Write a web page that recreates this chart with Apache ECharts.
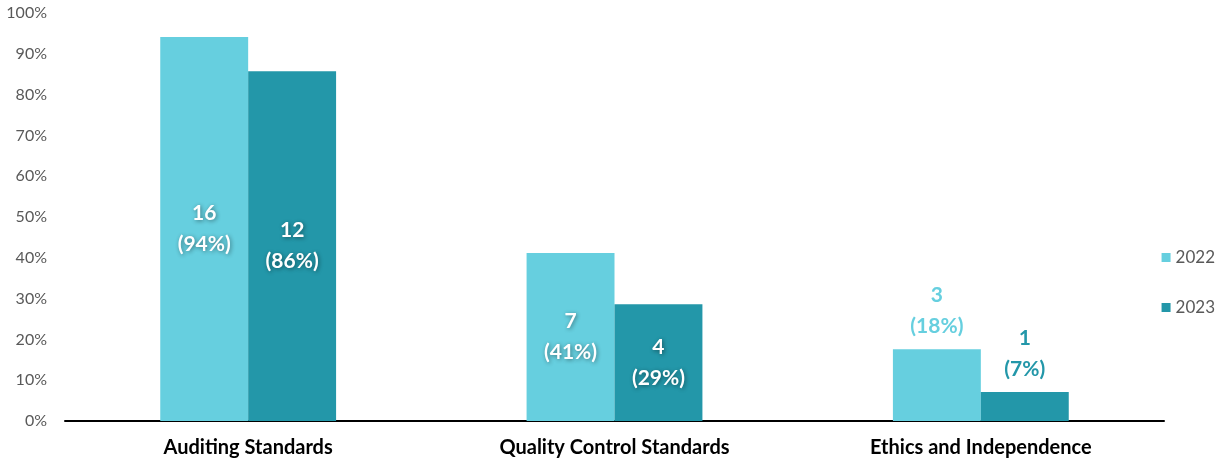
<!DOCTYPE html>
<html><head><meta charset="utf-8">
<script src="https://cdn.jsdelivr.net/npm/echarts@6/dist/echarts.min.js"></script>
<style>html,body{margin:0;padding:0;background:#fff}#c{width:1220px;height:462px}</style>
</head><body><div id="c"></div>
<script>
const categories = ['Auditing Standards', 'Quality Control Standards', 'Ethics and Independence'];
const yearNames = ['2022', '2023'];
const pct2022 = [94.1, 41.2, 17.6];
const pct2023 = [85.7, 28.6, 7.1];
const count2022 = [16, 7, 3];
const count2023 = [12, 4, 1];
const yTicks = [0, 10, 20, 30, 40, 50, 60, 70, 80, 90, 100];

const colors = ['#66CFDF', '#2397A9'];
const FONT = 'Lato, "Open Sans", sans-serif';

function makeData(pcts, counts, color) {
  return pcts.map((v, i) => {
    const inside = v > 25;
    return {
      value: v,
      label: {
        show: true,
        position: inside ? 'inside' : 'top',
        distance: 7,
        formatter: counts[i] + '\n(' + Math.round(v) + '%)',
        color: inside ? '#ffffff' : color,
        fontFamily: FONT,
        fontWeight: 'bold',
        fontSize: 21,
        lineHeight: 31,
        textShadowColor: inside ? 'rgba(0,0,0,0.45)' : 'transparent',
        textShadowBlur: inside ? 4 : 0,
        textShadowOffsetX: inside ? 1 : 0,
        textShadowOffsetY: inside ? 1 : 0
      }
    };
  });
}

const chart = echarts.init(document.getElementById('c'), null, {renderer: 'canvas'});
chart.setOption({
  animation: false,
  backgroundColor: '#ffffff',
  grid: {left: 65, right: 56, top: 13, bottom: 41, containLabel: false},
  legend: {
    orient: 'vertical',
    right: 0,
    top: 244,
    itemWidth: 9,
    itemHeight: 9,
    itemGap: 33,
    icon: 'rect',
    textStyle: {fontFamily: FONT, fontSize: 17, color: '#595959'},
    data: yearNames
  },
  xAxis: {
    type: 'category',
    data: categories,
    axisLine: {lineStyle: {color: '#000000', width: 2}},
    axisTick: {show: false},
    axisLabel: {fontFamily: FONT, fontSize: 20, fontWeight: 'bold', color: '#000000', margin: 17}
  },
  yAxis: {
    type: 'value',
    min: yTicks[0],
    max: yTicks[yTicks.length - 1],
    interval: 10,
    splitLine: {show: false},
    axisLine: {show: false},
    axisTick: {show: false},
    axisLabel: {formatter: '{value}%', fontFamily: FONT, fontSize: 16, color: '#595959', margin: 18}
  },
  series: [
    {name: yearNames[0], type: 'bar', barGap: '0%', barCategoryGap: '52%', itemStyle: {color: colors[0]}, data: makeData(pct2022, count2022, colors[0])},
    {name: yearNames[1], type: 'bar', barGap: '0%', barCategoryGap: '52%', itemStyle: {color: colors[1]}, data: makeData(pct2023, count2023, colors[1])}
  ]
});
</script></body></html>
